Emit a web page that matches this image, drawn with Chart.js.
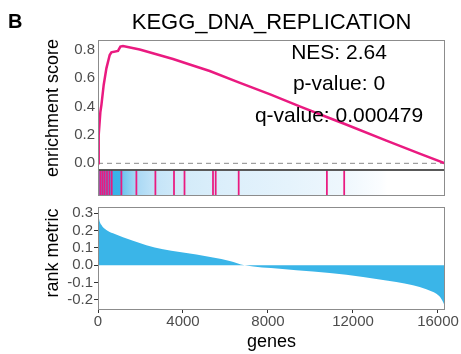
<!DOCTYPE html>
<html><head><meta charset="utf-8">
<script src="https://cdn.jsdelivr.net/npm/chart.js@4"></script>
<style>
html,body{margin:0;padding:0;background:#fff;}
#wrap{position:relative;width:461px;height:354px;overflow:hidden;}
canvas{position:absolute;left:0;}
#c1{top:0;} #c2{top:200px;}
</style></head><body>
<div id="wrap"><canvas id="c1" width="461" height="200"></canvas><canvas id="c2" width="461" height="154"></canvas></div>
<script>
// ---- data ----
const TITLE = 'KEGG_DNA_REPLICATION';
const PANEL_TAG = 'B';
const STATS_LINES = ['NES: 2.64', 'p-value: 0', 'q-value: 0.000479'];
const X_TICKS = [0, 4000, 8000, 12000, 16000];
const ES_TICKS = [0, 0.2, 0.4, 0.6, 0.8];
const RANK_TICKS = [-0.2, -0.1, 0, 0.1, 0.2, 0.3];
const GENE_COUNT = 16330;

const ES_GENES  = [0, 33, 113, 160, 268, 395, 551, 631, 941, 1054, 1176, 1962, 3530, 4315, 5257, 6621, 8104, 9492, 10763, 11586, 13572, 15135, 16330];
const ES_VALUES = [0, 0.2, 0.364, 0.411, 0.553, 0.67, 0.764, 0.783, 0.793, 0.823, 0.828, 0.803, 0.736, 0.697, 0.651, 0.571, 0.486, 0.402, 0.327, 0.279, 0.160, 0.068, 0];

const HIT_GENES = [33, 127, 221, 315, 423, 536, 645, 1101, 1807, 2701, 3577, 4071, 5412, 5539, 6621, 10772, 11586];

const RANK_GENES  = [0, 47, 157, 392, 706, 1176, 1647, 2277, 3059, 3845, 4631, 5412, 6198, 6900, 8551, 10118, 11690, 13257, 14824, 15452, 15925, 16160, 16330];
const RANK_VALUES = [0.32, 0.27, 0.233, 0.204, 0.184, 0.161, 0.141, 0.116, 0.093, 0.077, 0.062, 0.045, 0.025, 0, -0.02, -0.036, -0.054, -0.082, -0.115, -0.138, -0.165, -0.194, -0.235];

// colour bar under the hits (rank-metric shading)
const SHADE_GENES  = [0, 1050, 1150, 1800, 2700, 4000, 6000, 9000, 11500, 13300, 13600];
const SHADE_COLORS = ['#33b1e8', '#3ab3e9', '#6ec6ef', '#a8d8f4', '#c4e4f8', '#d3ebf9', '#dceffb', '#e5f3fc', '#eef7fd', '#fbfdff', '#ffffff'];

// ---- style ----
const FONT = '"Liberation Sans", Arial, Helvetica, sans-serif';
const PINK = '#ea1a80';
const BLUE = '#3ab5e8';
const BORDER = '#8c8c8c';
const TICK_COLOR = '#4d4d4d';
const ES_MIN = -0.227, ES_MAX = 0.870;
const BASE_LINE = -0.047, BAR_TOP = -0.054;
const RANK_MIN = -0.258, RANK_MAX = 0.336;

const toXY = (xs, ys) => xs.map((x, i) => ({x: x, y: ys[i]}));

function boxPlugin() {
  return {
    id: 'box',
    afterDatasetsDraw(chart) {
      const {ctx, chartArea: a} = chart;
      ctx.save();
      ctx.strokeStyle = BORDER; ctx.lineWidth = 1;
      ctx.strokeRect(Math.round(a.left) + 0.5, Math.round(a.top) + 0.5, Math.round(a.right - a.left) - 1, Math.round(a.bottom - a.top) - 1);
      ctx.restore();
    }
  };
}

// ---------- top chart ----------
new Chart(document.getElementById('c1'), {
  type: 'line',
  data: {
    datasets: [
      {type: 'line', data: toXY(ES_GENES, ES_VALUES), borderColor: PINK, borderWidth: 2.5, pointRadius: 0, tension: 0, fill: false, order: 0},
      {type: 'line', data: [{x: 0, y: 0}, {x: GENE_COUNT, y: 0}], borderColor: '#8a8a8a', borderWidth: 1, borderDash: [5, 4], pointRadius: 0, order: 1},
      {type: 'line', data: [{x: 0, y: BASE_LINE}, {x: GENE_COUNT, y: BASE_LINE}], borderColor: '#222', borderWidth: 1.5, pointRadius: 0, order: 2},
      {type: 'bar', data: HIT_GENES.map(g => ({x: g, y: [ES_MIN, BAR_TOP]})), backgroundColor: PINK, barThickness: 1.1, grouped: false, order: 3}
    ]
  },
  options: {
    responsive: false, animation: false, devicePixelRatio: 1,
    layout: {padding: {top: 40, right: 16, bottom: 4.5, left: 0}},
    plugins: {legend: {display: false}, tooltip: {enabled: false}, title: {display: false}},
    scales: {
      x: {type: 'linear', min: 0, max: GENE_COUNT, display: false, offset: false},
      y: {
        type: 'linear', min: ES_MIN, max: ES_MAX,
        afterFit(s) { s.width = 98; s.paddingTop = 0; s.paddingBottom = 0; },
        afterBuildTicks(s) { s.ticks = ES_TICKS.map(v => ({value: v})); },
        grid: {display: false, drawTicks: false},
        border: {display: false},
        ticks: {font: {family: FONT, size: 15}, color: TICK_COLOR, padding: 3, autoSkip: false, callback: v => Number(v).toFixed(1)}
      }
    }
  },
  plugins: [
    {
      id: 'shade',
      beforeDatasetsDraw(chart) {
        const {ctx, scales: {x, y}} = chart;
        const x0 = x.getPixelForValue(0), x1 = x.getPixelForValue(GENE_COUNT);
        const yT = y.getPixelForValue(BAR_TOP), yB = y.getPixelForValue(ES_MIN);
        const g = ctx.createLinearGradient(x0, 0, x1, 0);
        SHADE_GENES.forEach((gn, i) => g.addColorStop((x.getPixelForValue(gn) - x0) / (x1 - x0), SHADE_COLORS[i]));
        ctx.save(); ctx.fillStyle = g; ctx.fillRect(x0, yT, x1 - x0, yB - yT); ctx.restore();
      }
    },
    boxPlugin(),
    {
      id: 'texts1',
      afterDraw(chart) {
        const {ctx, chartArea: a} = chart;
        ctx.save();
        ctx.fillStyle = '#000';
        ctx.textBaseline = 'alphabetic';
        ctx.textAlign = 'left';
        ctx.font = 'bold 20px ' + FONT;
        ctx.fillText(PANEL_TAG, 8, 28);
        ctx.textAlign = 'center';
        ctx.font = '22px ' + FONT;
        ctx.fillText(TITLE, (a.left + a.right) / 2, 28.5);
        ctx.font = '21px ' + FONT;
        const bl = [59, 90, 121.5];
        STATS_LINES.forEach((t, i) => ctx.fillText(t, 339, bl[i]));
        ctx.font = '18px ' + FONT;
        ctx.translate(58, 108);
        ctx.rotate(-Math.PI / 2);
        ctx.fillText('enrichment score', 0, 0);
        ctx.restore();
      }
    }
  ]
});

// ---------- bottom chart ----------
new Chart(document.getElementById('c2'), {
  type: 'line',
  data: {
    datasets: [
      {data: toXY(RANK_GENES, RANK_VALUES), borderWidth: 0, borderColor: BLUE, backgroundColor: BLUE, pointRadius: 0, fill: 'origin', cubicInterpolationMode: 'monotone'}
    ]
  },
  options: {
    responsive: false, animation: false, devicePixelRatio: 1,
    layout: {padding: {top: 7, right: 16, bottom: 0, left: 0}},
    plugins: {legend: {display: false}, tooltip: {enabled: false}},
    scales: {
      x: {
        type: 'linear', min: 0, max: GENE_COUNT, offset: false,
        afterFit(s) { s.height = 44; s.paddingLeft = 0; s.paddingRight = 0; },
        afterBuildTicks(s) { s.ticks = X_TICKS.map(v => ({value: v})); },
        grid: {display: true, drawOnChartArea: false, drawTicks: true, tickLength: 3, color: '#333'},
        border: {display: false},
        ticks: {font: {family: FONT, size: 15}, color: TICK_COLOR, padding: 0, maxRotation: 0, autoSkip: false, callback: v => String(v)}
      },
      y: {
        type: 'linear', min: RANK_MIN, max: RANK_MAX,
        afterFit(s) { s.width = 98; s.paddingTop = 0; s.paddingBottom = 0; },
        afterBuildTicks(s) { s.ticks = RANK_TICKS.map(v => ({value: v})); },
        grid: {display: true, drawOnChartArea: false, drawTicks: true, tickLength: 4, color: '#333'},
        border: {display: false},
        ticks: {font: {family: FONT, size: 15}, color: TICK_COLOR, padding: 1, autoSkip: false, callback: v => Number(v).toFixed(1)}
      }
    }
  },
  plugins: [
    boxPlugin(),
    {
      id: 'texts2',
      afterDraw(chart) {
        const {ctx, chartArea: a} = chart;
        ctx.save();
        ctx.fillStyle = '#000';
        ctx.textAlign = 'center';
        ctx.textBaseline = 'alphabetic';
        ctx.font = '18px ' + FONT;
        ctx.fillText('genes', (a.left + a.right) / 2, 147);
        ctx.translate(58, 53);
        ctx.rotate(-Math.PI / 2);
        ctx.fillText('rank metric', 0, 0);
        ctx.restore();
      }
    }
  ]
});
</script>
</body></html>
